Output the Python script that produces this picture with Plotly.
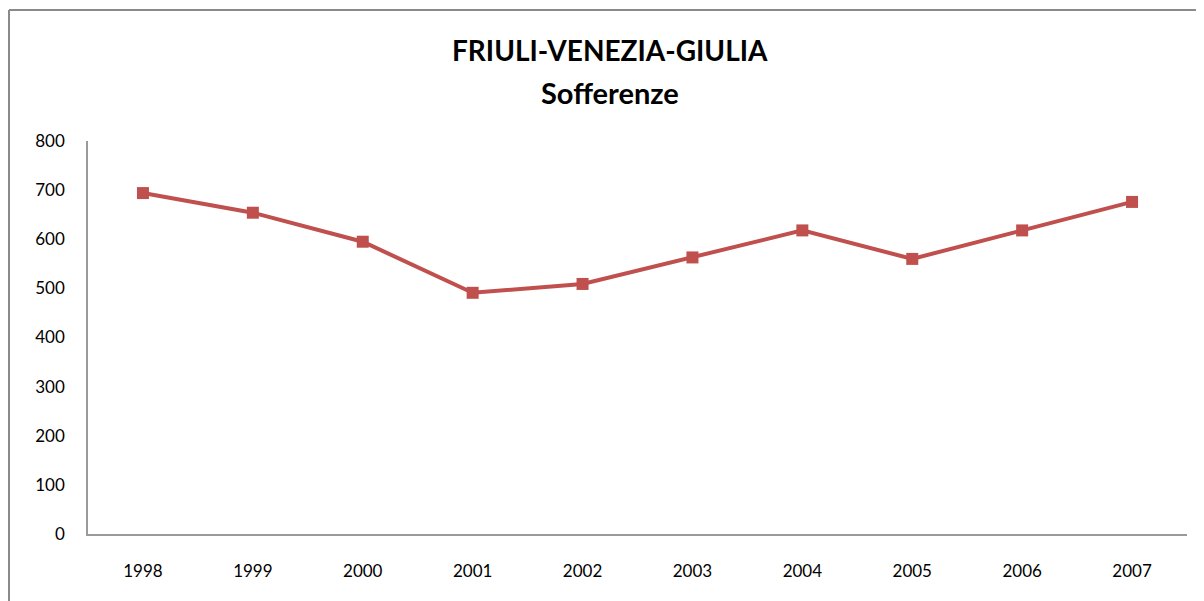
import plotly.graph_objects as go

years = ["1998", "1999", "2000", "2001", "2002", "2003", "2004", "2005", "2006", "2007"]
sofferenze = [694, 654, 595, 491, 509, 563, 618, 560, 618, 676]
y_ticks = [0, 100, 200, 300, 400, 500, 600, 700, 800]

# page body has an 8px margin; plot area in page coords: x 88-1187, y 141-534
L, T, PW, PH = 80, 133, 1099, 393

fig = go.Figure()
fig.add_trace(go.Scatter(
    x=years, y=sofferenze, mode="lines+markers",
    line=dict(color="#C0504D", width=4),
    marker=dict(symbol="square", size=12, color="#C0504D"),
    showlegend=False,
))

fx = lambda px: (px - L) / PW
fy = lambda py: 1 + (T - py) / PH

fig.update_layout(
    width=1204, height=601,
    margin=dict(l=L, r=1204 - L - PW, t=T, b=601 - T - PH),
    paper_bgcolor="white", plot_bgcolor="white",
    font=dict(family="Lato, sans-serif", color="black", size=17),
    xaxis=dict(type="category", range=[-0.5, len(years) - 0.5],
               showline=True, linecolor="#9a9a9a", linewidth=1.5,
               showgrid=False, zeroline=False, ticks="", ticklabelstandoff=21,
               tickfont=dict(size=17)),
    yaxis=dict(range=[0, 800], tickvals=y_ticks, showline=True, linecolor="#9a9a9a",
               linewidth=1.5, showgrid=False, zeroline=False, ticks="",
               ticklabelstandoff=18, tickfont=dict(size=17)),
    annotations=[
        dict(text="<b>FRIULI-VENEZIA-GIULIA</b>", xref="paper", yref="paper",
             x=fx(602), y=fy(42), xanchor="center", yanchor="middle",
             showarrow=False, font=dict(size=28, family="Lato, sans-serif")),
        dict(text="<b>Sofferenze</b>", xref="paper", yref="paper",
             x=fx(602), y=fy(84), xanchor="center", yanchor="middle",
             showarrow=False, font=dict(size=29, family="Lato, sans-serif")),
    ],
    shapes=[
        dict(type="line", xref="paper", yref="paper",
             x0=fx(1), x1=fx(1), y0=fy(2), y1=-0.3,
             line=dict(color="#8a8a8a", width=2)),
        dict(type="line", xref="paper", yref="paper",
             x0=fx(1), x1=1.05, y0=fy(2), y1=fy(2),
             line=dict(color="#8a8a8a", width=2)),
    ],
)

fig.write_html("out.html")
